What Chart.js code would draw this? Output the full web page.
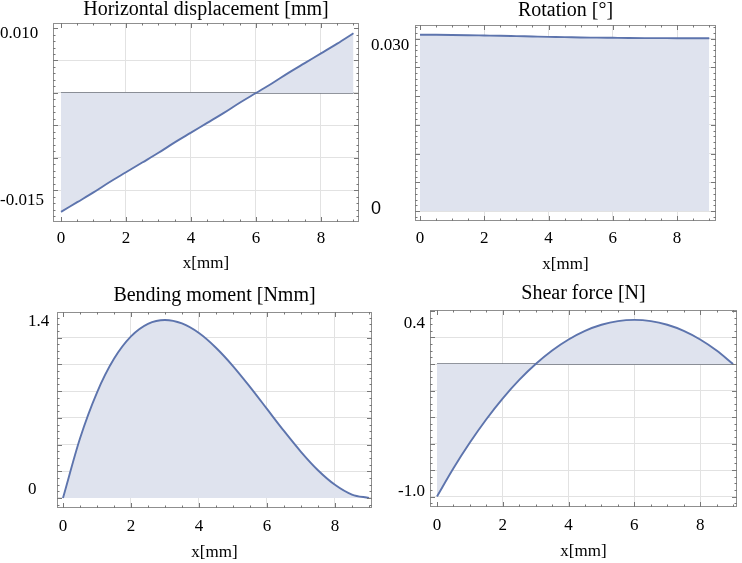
<!DOCTYPE html>
<html>
<head>
<meta charset="utf-8">
<script src="https://cdn.jsdelivr.net/npm/chart.js@4/dist/chart.umd.min.js"></script>
<style>
  body { margin: 0; background: #fff; width: 742px; height: 563px; position: relative; overflow: hidden; }
  canvas { position: absolute; }
</style>
</head>
<body>
<canvas id="c3" width="375" height="283" style="left:0;top:280px"></canvas>
<canvas id="c1" width="371" height="280" style="left:0;top:0"></canvas>
<canvas id="c2" width="371" height="280" style="left:371px;top:0"></canvas>
<canvas id="c4" width="371" height="283" style="left:371px;top:280px"></canvas>
<script>
// position along the beam (mm)
const xs = [0, 0.5, 1, 1.5, 2, 2.5, 3, 3.5, 4, 4.5, 5, 5.5, 6, 6.5, 7, 7.5, 8, 8.5, 9];
const xTicks = [0, 2, 4, 6, 8];

// values
const dispY = [-0.0183, -0.0168, -0.0153, -0.0137, -0.0122, -0.0107, -0.0092, -0.0076, -0.0061, -0.0046,
  -0.0031, -0.0015, 0, 0.0015, 0.0031, 0.0046, 0.0061, 0.0076, 0.0092];
const rotY = [0.03070, 0.03069, 0.03066, 0.03062, 0.03057, 0.03052, 0.03046, 0.03040, 0.03034, 0.03029,
  0.03022, 0.03020, 0.03017, 0.03014, 0.03012, 0.03011, 0.03010, 0.03010, 0.03010];
const momentY = [0, 0.446, 0.790, 1.042, 1.210, 1.304, 1.333, 1.307, 1.235, 1.125,
  0.988, 0.832, 0.667, 0.502, 0.346, 0.208, 0.099, 0.026, 0];
const shearY = [-1, -0.787, -0.593, -0.417, -0.259, -0.120, 0, 0.102, 0.185, 0.25,
  0.296, 0.324, 0.333, 0.324, 0.296, 0.25, 0.185, 0.102, 0];

// y grid lines and the two labelled ticks of each panel
const dispGrid = [-0.015, -0.01, -0.005, 0, 0.005];
const dispLabels = ["0.010", "-0.015"];
const dispLabelAt = [0.0092, -0.0165];
const rotGrid = [0, 0.005, 0.01, 0.015, 0.02, 0.025, 0.03];
const rotLabels = ["0.030", "0"];
const rotLabelAt = [0.0289, 0.0003];
const momentGrid = [0, 0.2, 0.4, 0.6, 0.8, 1.0, 1.2];
const momentLabels = ["1.4", "0"];
const momentLabelAt = [1.318, 0.06];
const shearGrid = [-1, -0.8, -0.6, -0.4, -0.2, 0, 0.2];
const shearLabels = ["0.4", "-1.0"];
const shearLabelAt = [0.302, -0.966];

const lineColor = "#5d74ad";
const fillColor = "#dfe3ee";
const gridColor = "#e2e2e2";
const baseColor = "#6d727d";
const textColor = "#000";
const serif = "'Liberation Serif', 'DejaVu Serif', serif";
const tickFont = { family: serif, size: 17, lineHeight: 1.2 };

// Mathematica style frame with small inward ticks
const framePlugin = {
  id: "frame",
  afterDraw(chart, args, o) {
    const { ctx, chartArea: a, scales } = chart;
    ctx.save();
    ctx.strokeStyle = "#8f8f8f";
    ctx.lineWidth = 1;
    ctx.strokeRect(Math.round(a.left) + 0.5, Math.round(a.top) + 0.5,
      Math.round(a.width) - 1, Math.round(a.height) - 1);
    ctx.strokeStyle = "#777";
    const marks = (scale, step, major, horiz) => {
      const k0 = Math.ceil(scale.min / step), k1 = Math.floor(scale.max / step);
      for (let k = k0; k <= k1; k++) {
        const v = k * step;
        const r = v / major;
        const len = Math.abs(r - Math.round(r)) < 1e-6 ? 5 : 2.5;
        const p = Math.round(scale.getPixelForValue(v)) + 0.5;
        ctx.beginPath();
        if (horiz) {
          ctx.moveTo(p, a.bottom); ctx.lineTo(p, a.bottom - len);
          ctx.moveTo(p, a.top); ctx.lineTo(p, a.top + len);
        } else {
          ctx.moveTo(a.left, p); ctx.lineTo(a.left + len, p);
          ctx.moveTo(a.right, p); ctx.lineTo(a.right - len, p);
        }
        ctx.stroke();
      }
    };
    marks(scales.x, 0.5, 2, true);
    marks(scales.y, o.yStep, o.yMajor, false);
    ctx.restore();
  }
};

function makePanel(id, title, ys, o) {
  const datasets = [{
    data: xs.map((x, i) => ({ x: x, y: ys[i] })),
    borderColor: lineColor,
    borderWidth: 1.9,
    backgroundColor: fillColor,
    fill: "origin",
    pointRadius: 0,
    cubicInterpolationMode: "monotone"
  }];
  if (o.baseline) {
    datasets.push({
      data: [{ x: xs[0], y: 0 }, { x: xs[xs.length - 1], y: 0 }],
      borderColor: baseColor,
      borderWidth: 1.3,
      pointRadius: 0,
      fill: false
    });
  }
  const nGrid = o.grid.length;
  return new Chart(document.getElementById(id), {
    type: "line",
    data: { datasets: datasets },
    plugins: [framePlugin],
    options: {
      responsive: false,
      animation: false,
      layout: { padding: o.pad },
      plugins: {
        legend: { display: false },
        tooltip: { enabled: false },
        title: {
          display: true,
          text: title,
          fullSize: false,
          color: textColor,
          font: { family: serif, size: 20, weight: "normal", lineHeight: 1 },
          padding: o.titlePad
        },
        frame: { yStep: o.yStep, yMajor: o.yMajor }
      },
      scales: {
        x: {
          type: "linear",
          min: o.xMin,
          max: o.xMax,
          afterBuildTicks: (s) => { s.ticks = xTicks.map((v) => ({ value: v })); },
          afterFit: (s) => { s.height = o.xh; },
          grid: { color: (c) => (c.tick && c.tick.value === 0 ? "transparent" : gridColor), drawTicks: false },
          border: { display: false },
          ticks: { font: tickFont, color: textColor, padding: o.xPad, maxRotation: 0, autoSkip: false },
          title: { display: true, text: "x[mm]", font: tickFont, color: textColor, padding: { top: 0, bottom: o.xTitlePad } }
        },
        y: {
          min: o.yMin,
          max: o.yMax,
          afterBuildTicks: (s) => {
            s.ticks = o.grid.map((v) => ({ value: v })).concat(o.labelAt.map((v) => ({ value: v })));
          },
          afterFit: (s) => { s.width = o.yw; },
          grid: { color: (c) => (c.index >= nGrid ? "transparent" : gridColor), drawTicks: false },
          border: { display: false },
          ticks: {
            autoSkip: false,
            crossAlign: o.cross,
            padding: o.yPad,
            color: textColor,
            font: o.yFont || tickFont,
            callback: (v, i) => (i >= nGrid ? o.labels[i - nGrid] : "")
          }
        }
      }
    }
  });
}

makePanel("c1", "Horizontal displacement [mm]", dispY, {
  pad: { left: 0, right: 12, top: 0, bottom: 0 }, titlePad: { top: 0, bottom: 3 },
  xMin: -0.246, xMax: 9.17, xh: 58, xPad: 6.8, xTitlePad: 5.8,
  yMin: -0.01985, yMax: 0.01077, yw: 53, cross: "far", yPad: 4,
  grid: dispGrid, labels: dispLabels, labelAt: dispLabelAt,
  yStep: 0.001, yMajor: 0.005, baseline: true
});

makePanel("c2", "Rotation [°]", rotY, {
  pad: { left: 0, right: 26, top: 0, bottom: 0 }, titlePad: { top: 1, bottom: 4 },
  xMin: -0.156, xMax: 9.21, xh: 59, xPad: 7.8, xTitlePad: 4.8,
  yMin: -0.00174, yMax: 0.0324, yw: 44, cross: "far", yPad: 4,
  grid: rotGrid, labels: rotLabels, labelAt: rotLabelAt,
  yStep: 0.001, yMajor: 0.005, baseline: false,
  yFont: (c) => (c.tick && c.tick.label === "0"
    ? { family: "'Liberation Sans', Arial, sans-serif", size: 18, lineHeight: 1.2 }
    : tickFont)
});

makePanel("c3", "Bending moment [Nmm]", momentY, {
  pad: { left: 28, right: 3, top: 0, bottom: 0 }, titlePad: { top: 6, bottom: 6 },
  xMin: -0.176, xMax: 9.09, xh: 55, xPad: 8.3, xTitlePad: 0,
  yMin: -0.075, yMax: 1.393, yw: 29, cross: "far", yPad: 4,
  grid: momentGrid, labels: momentLabels, labelAt: momentLabelAt,
  yStep: 0.05, yMajor: 0.2, baseline: false
});

makePanel("c4", "Shear force [N]", shearY, {
  pad: { left: 0, right: 5, top: 0, bottom: 0 }, titlePad: { top: 4, bottom: 6 },
  xMin: -0.213, xMax: 9.12, xh: 56, xPad: 8.8, xTitlePad: 1.3,
  yMin: -1.079, yMax: 0.4075, yw: 59, cross: "near", yPad: 5,
  grid: shearGrid, labels: shearLabels, labelAt: shearLabelAt,
  yStep: 0.05, yMajor: 0.2, baseline: true
});
</script>
</body>
</html>
